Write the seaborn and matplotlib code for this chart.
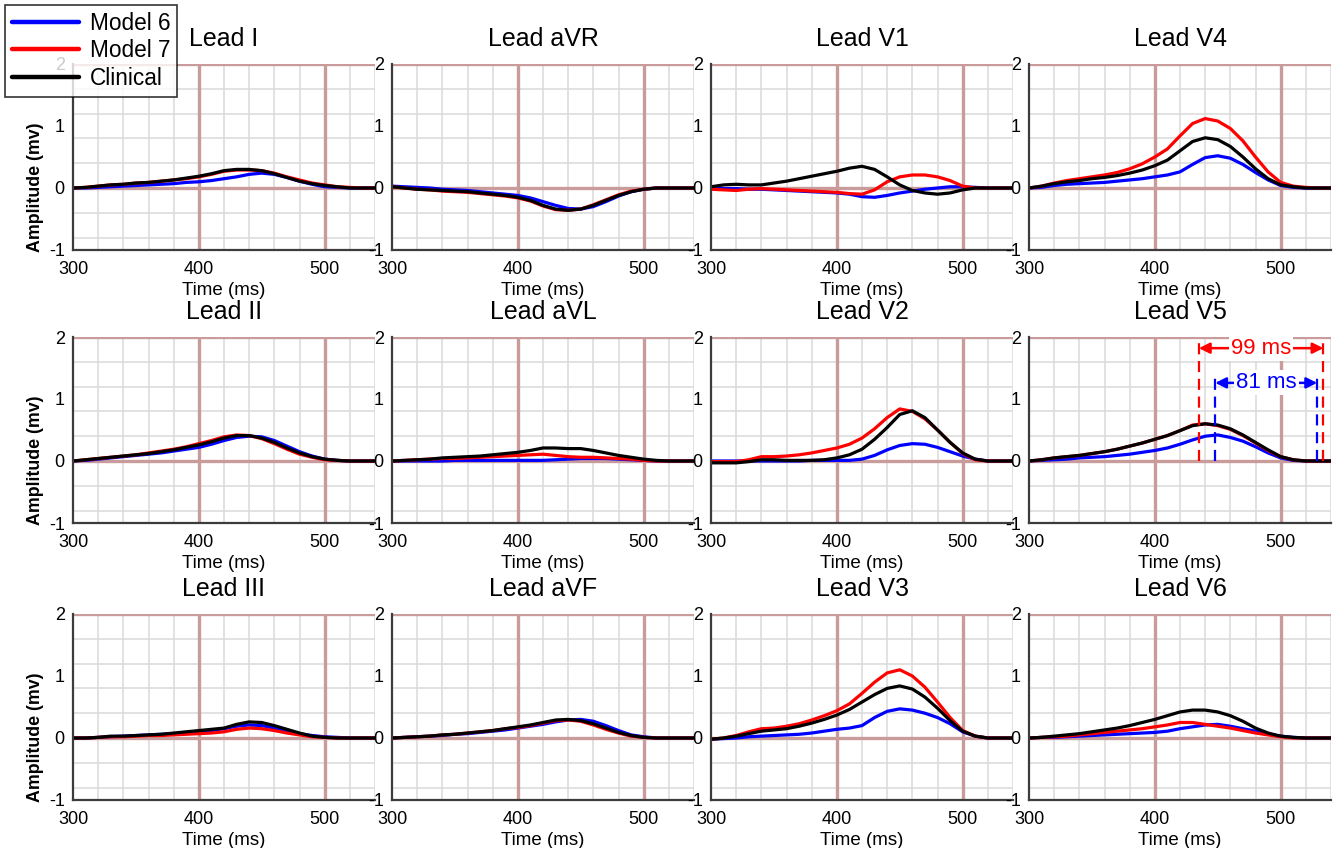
import numpy as np
import pandas as pd
import matplotlib
matplotlib.use("Agg")
import matplotlib.pyplot as plt
from matplotlib.lines import Line2D
import seaborn as sns

# Time axis (ms), sampled every 10 ms
time_ms = list(range(300, 541, 10))

series_names = ["Model 6", "Model 7", "Clinical"]
series_colors = {"Model 6": "#0000ff", "Model 7": "#ff0000", "Clinical": "#000000"}

# Amplitudes (mV) per lead: [Model 6, Model 7, Clinical]
lead_I = [
    [0, 0.0, 0.01, 0.02, 0.03, 0.04, 0.05, 0.06, 0.07, 0.09, 0.10, 0.12, 0.15, 0.18, 0.22, 0.24, 0.22, 0.17, 0.11, 0.06, 0.02, 0.01, 0, 0, 0],
    [0, 0.01, 0.03, 0.05, 0.06, 0.08, 0.09, 0.11, 0.13, 0.15, 0.18, 0.22, 0.27, 0.29, 0.29, 0.28, 0.24, 0.18, 0.13, 0.08, 0.05, 0.02, 0.01, 0, 0],
    [0, 0.01, 0.03, 0.05, 0.06, 0.08, 0.09, 0.11, 0.13, 0.16, 0.19, 0.23, 0.28, 0.30, 0.30, 0.28, 0.23, 0.17, 0.11, 0.07, 0.04, 0.02, 0.0, 0, 0],
]
lead_aVR = [
    [0.03, 0.02, 0.01, 0.0, -0.02, -0.03, -0.04, -0.06, -0.08, -0.10, -0.12, -0.16, -0.22, -0.28, -0.33, -0.34, -0.30, -0.22, -0.13, -0.06, -0.02, 0, 0, 0, 0],
    [0.02, 0, -0.02, -0.03, -0.05, -0.06, -0.07, -0.09, -0.11, -0.13, -0.16, -0.21, -0.29, -0.35, -0.36, -0.34, -0.27, -0.19, -0.11, -0.05, -0.02, 0, 0, 0, 0],
    [0.02, 0.0, -0.02, -0.03, -0.04, -0.05, -0.06, -0.08, -0.10, -0.12, -0.15, -0.20, -0.28, -0.34, -0.36, -0.34, -0.28, -0.20, -0.12, -0.06, -0.02, 0.0, 0, 0, 0],
]
lead_V1 = [
    [0, -0.01, -0.01, -0.02, -0.02, -0.03, -0.04, -0.05, -0.06, -0.07, -0.08, -0.10, -0.14, -0.15, -0.12, -0.08, -0.05, -0.02, 0.0, 0.02, 0.02, 0.01, 0, 0, 0],
    [-0.02, -0.03, -0.04, -0.02, -0.01, -0.02, -0.03, -0.04, -0.05, -0.06, -0.07, -0.09, -0.10, -0.03, 0.10, 0.18, 0.21, 0.21, 0.18, 0.12, 0.03, 0, 0, 0, 0],
    [0.02, 0.05, 0.06, 0.05, 0.05, 0.08, 0.11, 0.15, 0.19, 0.23, 0.27, 0.32, 0.35, 0.30, 0.18, 0.05, -0.04, -0.08, -0.10, -0.08, -0.03, 0.0, 0, 0, 0],
]
lead_V4 = [
    [0, 0.01, 0.04, 0.06, 0.07, 0.08, 0.09, 0.11, 0.13, 0.15, 0.18, 0.21, 0.26, 0.38, 0.49, 0.52, 0.48, 0.38, 0.25, 0.13, 0.04, 0.01, 0, 0, 0],
    [0, 0.03, 0.08, 0.12, 0.15, 0.18, 0.21, 0.25, 0.31, 0.39, 0.50, 0.63, 0.84, 1.04, 1.12, 1.08, 0.96, 0.76, 0.50, 0.26, 0.09, 0.03, 0.01, 0, 0],
    [0, 0.03, 0.07, 0.10, 0.12, 0.15, 0.17, 0.20, 0.24, 0.29, 0.36, 0.45, 0.60, 0.75, 0.81, 0.78, 0.67, 0.50, 0.31, 0.15, 0.05, 0.02, 0, 0, 0],
]
lead_II = [
    [0, 0.01, 0.03, 0.05, 0.07, 0.09, 0.11, 0.13, 0.16, 0.19, 0.22, 0.27, 0.33, 0.38, 0.40, 0.39, 0.33, 0.24, 0.15, 0.08, 0.03, 0.01, 0, 0, 0],
    [0, 0.02, 0.04, 0.06, 0.08, 0.10, 0.13, 0.16, 0.19, 0.23, 0.28, 0.33, 0.39, 0.42, 0.41, 0.36, 0.28, 0.19, 0.11, 0.06, 0.02, 0.01, 0, 0, 0],
    [0, 0.02, 0.04, 0.06, 0.08, 0.10, 0.12, 0.15, 0.18, 0.22, 0.26, 0.31, 0.37, 0.41, 0.41, 0.37, 0.30, 0.21, 0.13, 0.07, 0.03, 0.01, 0, 0, 0],
]
lead_aVL = [
    [0, 0, 0, 0, 0, 0.01, 0.01, 0.01, 0.01, 0.01, 0.01, 0.01, 0.01, 0.02, 0.03, 0.04, 0.04, 0.04, 0.03, 0.02, 0.01, 0, 0, 0, 0],
    [0, 0.01, 0.02, 0.03, 0.04, 0.04, 0.05, 0.06, 0.07, 0.08, 0.09, 0.10, 0.11, 0.09, 0.07, 0.06, 0.06, 0.05, 0.04, 0.03, 0.01, 0, 0, 0, 0],
    [0, 0.01, 0.02, 0.03, 0.05, 0.06, 0.07, 0.08, 0.10, 0.12, 0.14, 0.17, 0.21, 0.21, 0.20, 0.20, 0.17, 0.13, 0.09, 0.06, 0.03, 0.01, 0, 0, 0],
]
lead_V2 = [
    [0, 0, 0, 0, 0, 0, 0, 0, 0.01, 0.01, 0.01, 0.01, 0.03, 0.09, 0.18, 0.25, 0.28, 0.27, 0.22, 0.15, 0.08, 0.03, 0, 0, 0],
    [-0.01, -0.01, -0.01, 0.02, 0.07, 0.07, 0.08, 0.10, 0.13, 0.17, 0.21, 0.27, 0.37, 0.52, 0.70, 0.84, 0.80, 0.68, 0.50, 0.30, 0.12, 0.02, 0, 0, 0],
    [-0.03, -0.03, -0.03, -0.01, 0.02, 0.02, 0.01, 0.01, 0.01, 0.02, 0.05, 0.10, 0.19, 0.35, 0.54, 0.75, 0.81, 0.70, 0.50, 0.30, 0.13, 0.03, 0, 0, 0],
]
lead_V5 = [
    [0, 0.01, 0.02, 0.03, 0.05, 0.06, 0.07, 0.09, 0.11, 0.14, 0.17, 0.21, 0.27, 0.34, 0.40, 0.42, 0.38, 0.32, 0.23, 0.13, 0.05, 0.01, 0, 0, 0],
    [0, 0.02, 0.05, 0.07, 0.09, 0.12, 0.15, 0.19, 0.24, 0.29, 0.35, 0.41, 0.49, 0.58, 0.60, 0.57, 0.51, 0.41, 0.29, 0.17, 0.07, 0.02, 0, 0, 0],
    [0, 0.02, 0.05, 0.07, 0.09, 0.12, 0.15, 0.19, 0.24, 0.29, 0.35, 0.41, 0.49, 0.57, 0.60, 0.58, 0.52, 0.42, 0.30, 0.18, 0.07, 0.02, 0, 0, 0],
]
lead_III = [
    [0, 0, 0.01, 0.02, 0.03, 0.04, 0.05, 0.06, 0.07, 0.08, 0.10, 0.12, 0.15, 0.19, 0.21, 0.20, 0.16, 0.11, 0.07, 0.04, 0.02, 0.01, 0, 0, 0],
    [0, 0, 0.01, 0.02, 0.02, 0.03, 0.04, 0.04, 0.05, 0.06, 0.07, 0.08, 0.10, 0.14, 0.16, 0.15, 0.12, 0.08, 0.05, 0.02, 0.01, 0, 0, 0, 0],
    [0, 0, 0.01, 0.03, 0.03, 0.04, 0.05, 0.06, 0.08, 0.10, 0.12, 0.14, 0.16, 0.22, 0.26, 0.25, 0.20, 0.14, 0.08, 0.03, 0.01, 0, 0, 0, 0],
]
lead_aVF = [
    [0, 0.01, 0.02, 0.03, 0.04, 0.06, 0.07, 0.09, 0.11, 0.13, 0.16, 0.19, 0.22, 0.26, 0.29, 0.30, 0.27, 0.20, 0.12, 0.05, 0.02, 0, 0, 0, 0],
    [0, 0.01, 0.02, 0.03, 0.05, 0.06, 0.08, 0.10, 0.12, 0.15, 0.17, 0.20, 0.24, 0.28, 0.29, 0.27, 0.21, 0.14, 0.08, 0.03, 0.01, 0, 0, 0, 0],
    [0, 0.01, 0.02, 0.03, 0.05, 0.06, 0.08, 0.10, 0.12, 0.15, 0.18, 0.21, 0.25, 0.29, 0.30, 0.28, 0.23, 0.16, 0.09, 0.04, 0.01, 0, 0, 0, 0],
]
lead_V3 = [
    [-0.02, -0.01, 0.0, 0.02, 0.03, 0.04, 0.05, 0.06, 0.08, 0.11, 0.14, 0.16, 0.20, 0.33, 0.43, 0.47, 0.45, 0.40, 0.33, 0.23, 0.10, 0.03, 0, 0, 0],
    [-0.02, 0.0, 0.04, 0.10, 0.15, 0.16, 0.19, 0.23, 0.29, 0.36, 0.44, 0.55, 0.72, 0.90, 1.05, 1.10, 1.00, 0.82, 0.58, 0.33, 0.12, 0.03, 0, 0, 0],
    [-0.02, 0.0, 0.03, 0.07, 0.11, 0.13, 0.15, 0.19, 0.24, 0.30, 0.37, 0.46, 0.58, 0.70, 0.80, 0.84, 0.79, 0.66, 0.48, 0.28, 0.11, 0.03, 0, 0, 0],
]
lead_V6 = [
    [0, 0.01, 0.01, 0.02, 0.03, 0.04, 0.05, 0.06, 0.07, 0.08, 0.09, 0.11, 0.15, 0.18, 0.21, 0.22, 0.19, 0.15, 0.11, 0.06, 0.03, 0.01, 0, 0, 0],
    [0, 0.01, 0.02, 0.03, 0.05, 0.07, 0.09, 0.11, 0.13, 0.15, 0.18, 0.21, 0.25, 0.25, 0.22, 0.19, 0.16, 0.12, 0.08, 0.05, 0.02, 0, 0, 0, 0],
    [0, 0.01, 0.03, 0.05, 0.07, 0.10, 0.13, 0.16, 0.20, 0.25, 0.30, 0.36, 0.42, 0.45, 0.45, 0.42, 0.36, 0.27, 0.16, 0.08, 0.03, 0.01, 0, 0, 0],
]

# Panel grid, row by row
lead_titles = [
    ["Lead I", "Lead aVR", "Lead V1", "Lead V4"],
    ["Lead II", "Lead aVL", "Lead V2", "Lead V5"],
    ["Lead III", "Lead aVF", "Lead V3", "Lead V6"],
]
lead_data = [
    [lead_I, lead_aVR, lead_V1, lead_V4],
    [lead_II, lead_aVL, lead_V2, lead_V5],
    [lead_III, lead_aVF, lead_V3, lead_V6],
]

# QT-interval style markers on Lead V5 (ms)
v5_model7_span = (435, 534)
v5_model6_span = (448, 529)

sns.set_style("white")
plt.rcParams["font.family"] = ["Liberation Sans", "DejaVu Sans"]
plt.rcParams["text.color"] = "black"
plt.rcParams["axes.labelcolor"] = "black"

W, H = 1339, 848
fig = plt.figure(figsize=(W / 100, H / 100), dpi=100)

col_left = [73, 392, 711, 1029]
row_top = [64, 337, 614]
ax_w, ax_h = 302, 186

minor_col = "#dadada"
major_col = "#c99b9b"
spine_col = "#3c3c3c"

for r in range(3):
    for c in range(4):
        ax = fig.add_axes([col_left[c] / W, 1 - (row_top[r] + ax_h) / H, ax_w / W, ax_h / H])
        ax.set_xlim(300, 540)
        ax.set_ylim(-1, 2)

        # ECG-paper grid: small boxes 20 ms x 0.4 mV, large boxes 100 ms x 2 mV
        for xv in range(320, 541, 20):
            if xv % 100 == 0:
                ax.axvline(xv, color=major_col, lw=2.4, zorder=1)
            else:
                ax.axvline(xv, color=minor_col, lw=1.1, zorder=0)
        for yv in np.arange(-0.8, 2.01, 0.4):
            yv = round(yv, 1)
            if abs(yv) < 1e-9 or abs(yv - 2.0) < 1e-9:
                ax.axhline(yv, color=major_col, lw=2.4, zorder=1)
            else:
                ax.axhline(yv, color=minor_col, lw=1.1, zorder=0)

        rows = []
        for name, vals in zip(series_names, lead_data[r][c]):
            for t, v in zip(time_ms, vals):
                rows.append({"Time (ms)": t, "Amplitude (mv)": v, "Series": name})
        df = pd.DataFrame(rows)
        sns.lineplot(data=df, x="Time (ms)", y="Amplitude (mv)", hue="Series",
                     hue_order=series_names, palette=series_colors,
                     linewidth=2.3, legend=False, ax=ax, zorder=3)

        ax.set_xticks([300, 400, 500])
        ax.set_yticks([-1, 0, 1, 2])
        ax.set_yticklabels(["-1", "0", "1", "2"])
        ax.tick_params(axis="both", labelsize=13, length=3, width=1,
                       direction="out", colors=spine_col, labelcolor="black")
        ax.tick_params(axis="x", pad=5)
        ax.tick_params(axis="y", pad=3)
        ax.set_xlabel("Time (ms)", fontsize=13.5, labelpad=3)
        if c == 0:
            ax.set_ylabel("Amplitude (mv)", fontsize=12.8, fontweight="bold")
            ax.yaxis.set_label_coords(-0.095, 0.34)
        else:
            ax.set_ylabel("")
        ax.set_title(lead_titles[r][c], fontsize=18, pad=13, color="black")

        for side in ["top", "right"]:
            ax.spines[side].set_visible(False)
        for side in ["left", "bottom"]:
            ax.spines[side].set_color(spine_col)
            ax.spines[side].set_linewidth(1.6)
            ax.spines[side].set_zorder(4)

        if lead_titles[r][c] == "Lead V5":
            red, blue = series_colors["Model 7"], series_colors["Model 6"]
            for xv in v5_model7_span:
                ax.plot([xv, xv], [0, 2], color=red, lw=1.6, ls=(0, (5, 3)), zorder=5)
            for xv in v5_model6_span:
                ax.plot([xv, xv], [0, 1.42], color=blue, lw=1.6, ls=(0, (5, 3)), zorder=5)
            for (x0, x1), yv, col in [(v5_model7_span, 1.82, red), (v5_model6_span, 1.26, blue)]:
                ax.annotate("", xy=(x0, yv), xytext=(x1, yv),
                            arrowprops=dict(arrowstyle="<|-|>", color=col, lw=1.8,
                                            mutation_scale=16, shrinkA=0, shrinkB=0),
                            zorder=6)
                ax.text((x0 + x1) / 2, yv, f"{x1 - x0} ms", color=col, fontsize=16,
                        ha="center", va="center", zorder=7,
                        bbox=dict(facecolor="white", edgecolor="none", pad=1.5))

handles = [Line2D([0], [0], color=series_colors[n], lw=3.2) for n in series_names]
leg = fig.legend(handles, series_names, loc="upper left",
                 bbox_to_anchor=(5 / W, 1 - 5 / H), fontsize=16.3,
                 frameon=True, fancybox=False, edgecolor="black",
                 handlelength=2.95, handletextpad=0.5, labelspacing=0.2,
                 borderpad=0.3, borderaxespad=0)
leg.get_frame().set_linewidth(1.2)

fig.savefig("out.png", dpi=100)
